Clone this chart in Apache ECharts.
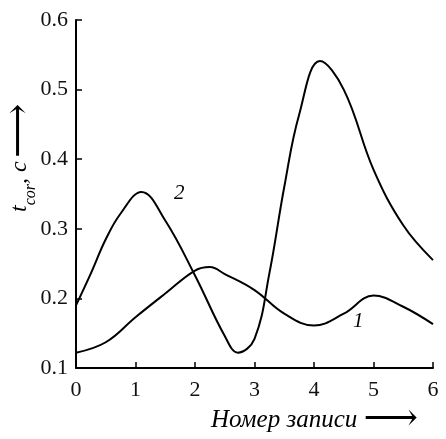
<!DOCTYPE html>
<html>
<head>
<meta charset="utf-8">
<script src="https://cdn.jsdelivr.net/npm/echarts@6/dist/echarts.min.js"></script>
<style>
  html, body { margin: 0; padding: 0; background: #fff; }
</style>
</head>
<body>
<div id="chartBox" style="width: 446px; height: 439px;"></div>
<script>
// values
var curve1X = [0, 0.5, 1, 1.5, 2, 2.25, 2.5, 3, 3.5, 4, 4.5, 5, 5.5, 6];
var curve1Y = [0.122, 0.137, 0.173, 0.207, 0.24, 0.245, 0.235, 0.212, 0.178, 0.161, 0.178, 0.204, 0.188, 0.163];
var curve2X = [0, 0.25, 0.5, 0.75, 1.1, 1.5, 2, 2.5, 2.72, 3, 3.25, 3.5, 3.75, 4.1, 4.5, 5, 5.5, 6];
var curve2Y = [0.19, 0.236, 0.285, 0.322, 0.353, 0.312, 0.233, 0.146, 0.122, 0.142, 0.236, 0.36, 0.464, 0.541, 0.5, 0.385, 0.305, 0.255];
var xTicks = [0, 1, 2, 3, 4, 5, 6];
var yTicks = [0.1, 0.2, 0.3, 0.4, 0.5, 0.6];

var font = '"Liberation Serif", "DejaVu Serif", serif';

function pairs(xs, ys) {
    return xs.map(function (x, i) { return [x, ys[i]]; });
}

var chart = echarts.init(document.getElementById('chartBox'));
var option = {
    animation: false,
    backgroundColor: '#fff',
    grid: { left: 76, right: 13, top: 20, bottom: 71 },
    xAxis: {
        type: 'value',
        min: xTicks[0],
        max: xTicks[xTicks.length - 1],
        interval: 1,
        splitLine: { show: false },
        axisLine: { lineStyle: { color: '#000', width: 2 } },
        axisTick: { inside: true, length: 6, lineStyle: { color: '#000', width: 1.5 } },
        axisLabel: { color: '#111', fontFamily: font, fontSize: 22, margin: 11 }
    },
    yAxis: {
        type: 'value',
        min: yTicks[0],
        max: yTicks[yTicks.length - 1],
        interval: 0.1,
        splitLine: { show: false },
        axisLine: { lineStyle: { color: '#000', width: 2 } },
        axisTick: { inside: true, length: 6, lineStyle: { color: '#000', width: 1.5 } },
        axisLabel: {
            color: '#111', fontFamily: font, fontSize: 22, margin: 8,
            formatter: function (v) { return v.toFixed(1); }
        }
    },
    graphic: [
        {
            type: 'text', left: 211, top: 401,
            style: { text: 'Номер записи {a|⟶}', font: 'italic 25px ' + font, fill: '#000',
                rich: { a: { font: '38px ' + font, fill: '#000' } } }
        },
        {
            type: 'text', x: 1, y: 212, rotation: Math.PI / 2,
            style: {
                text: '{i|t}{s|cor}{n|, c} {a|⟶}',
                rich: {
                    i: { font: 'italic 24px ' + font, fill: '#000' },
                    s: { font: 'italic 16px ' + font, fill: '#000', verticalAlign: 'bottom', padding: [13, 0, 0, 0] },
                    n: { font: 'italic 24px ' + font, fill: '#000' },
                    a: { font: '38px ' + font, fill: '#000' }
                }
            }
        },
        {
            type: 'text', left: 174, top: 183,
            style: { text: '2', font: 'italic 21px ' + font, fill: '#000' }
        },
        {
            type: 'text', left: 353, top: 311,
            style: { text: '1', font: 'italic 21px ' + font, fill: '#000' }
        }
    ],
    series: [
        {
            name: '1', type: 'line', smooth: 0.4, showSymbol: false,
            lineStyle: { color: '#000', width: 2 },
            data: pairs(curve1X, curve1Y)
        },
        {
            name: '2', type: 'line', smooth: 0.4, showSymbol: false,
            lineStyle: { color: '#000', width: 2 },
            data: pairs(curve2X, curve2Y)
        }
    ]
};
chart.setOption(option);
</script>
</body>
</html>
